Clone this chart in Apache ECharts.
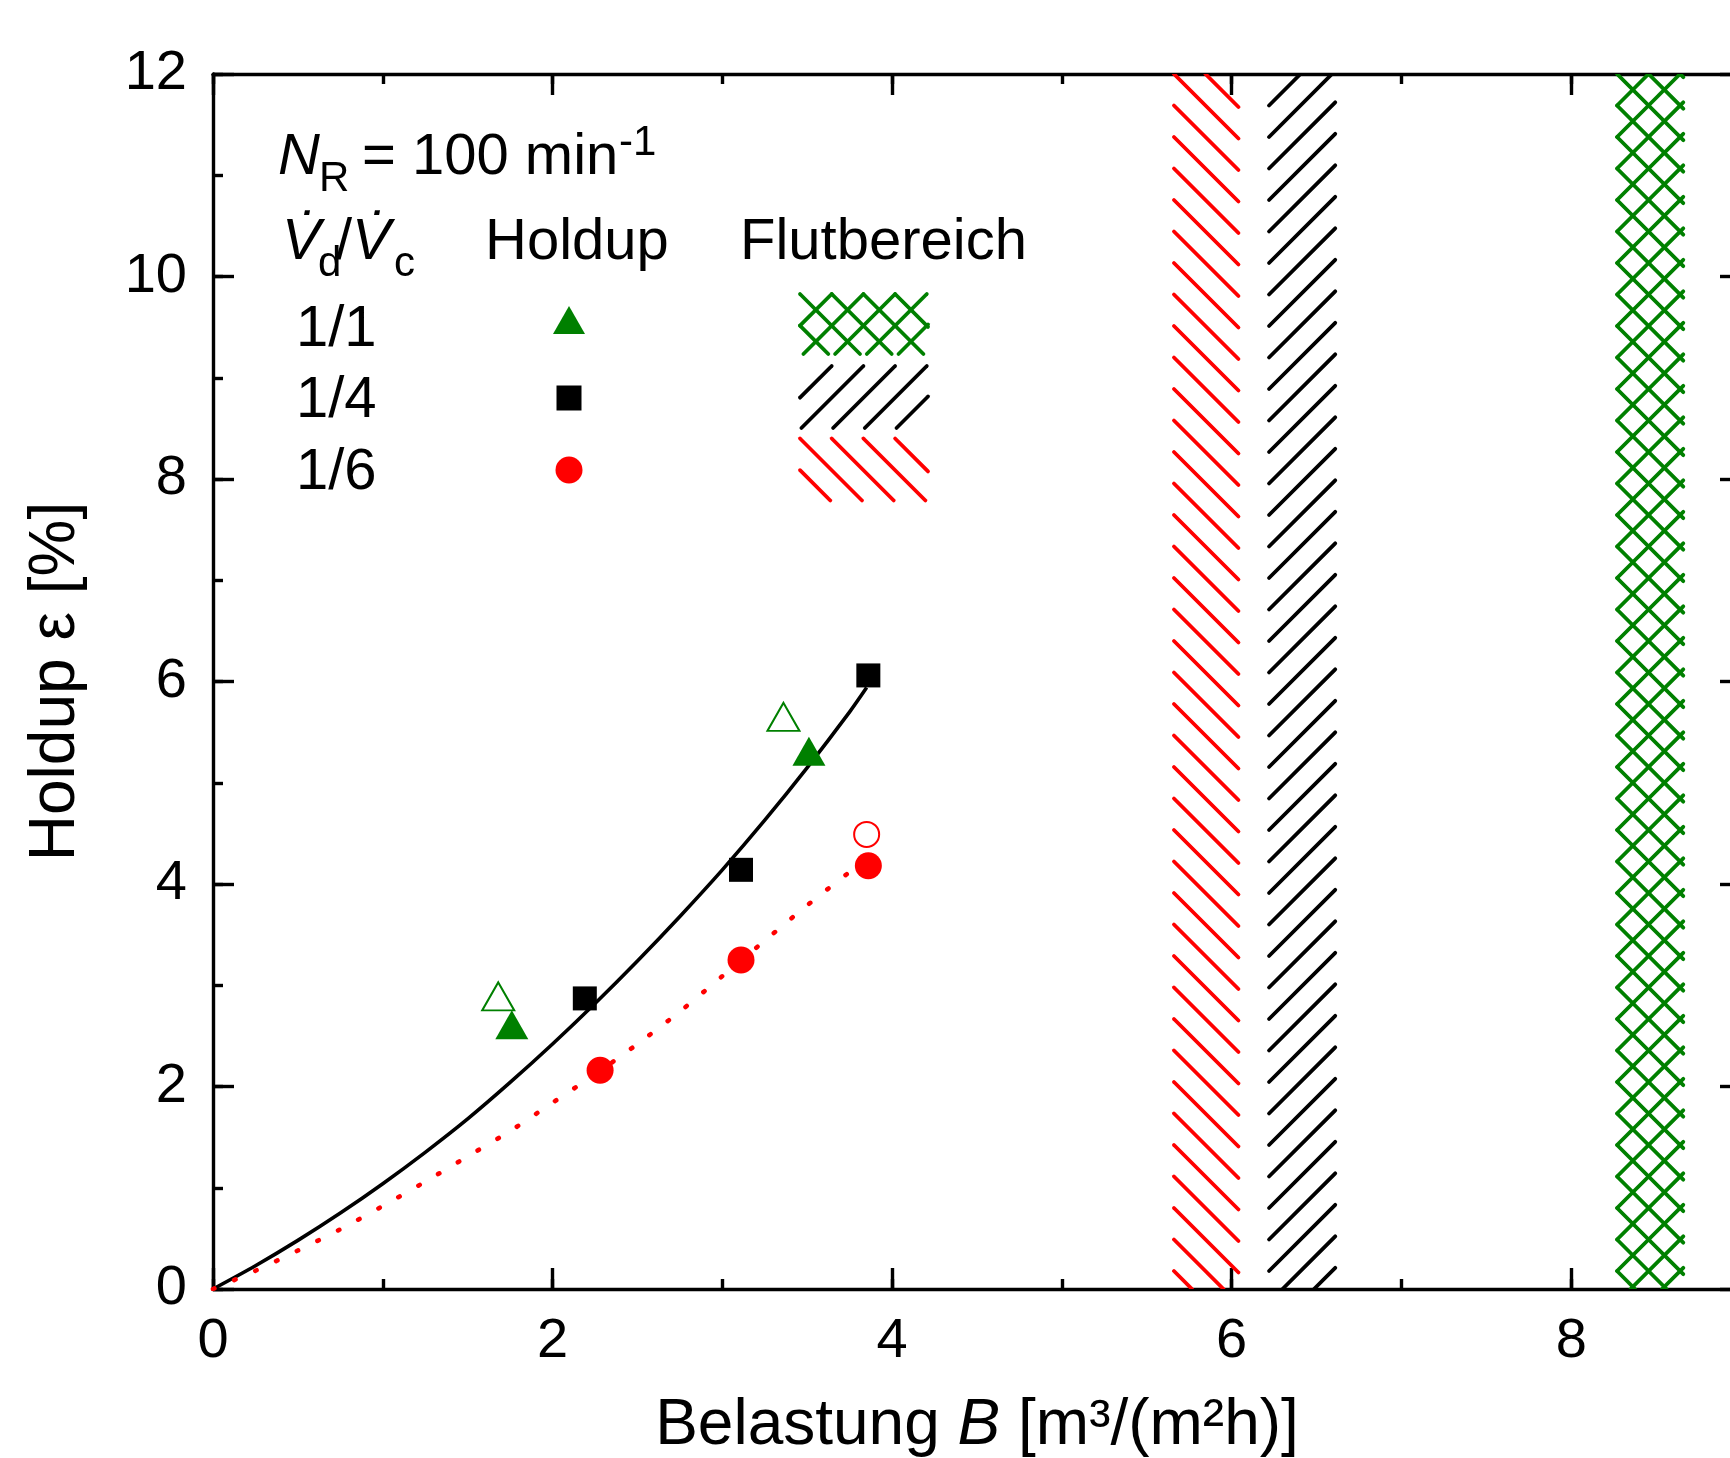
<!DOCTYPE html>
<html>
<head>
<meta charset="utf-8">
<script src="https://cdn.jsdelivr.net/npm/echarts@6/dist/echarts.min.js"></script>
<style>
  html, body { margin: 0; padding: 0; background: #fff; }
  #chart { width: 1730px; height: 1458px; }
</style>
</head>
<body>
<div id="chart"></div>
<script>
// Vd/Vc ratios (legend rows)
const ratios = ['1/1', '1/4', '1/6'];

// holdup measurements, filled symbols
const holdupB_11 = [1.76, 3.51];
const holdupE_11 = [2.61, 5.31];
const holdupB_14 = [2.19, 3.11, 3.86];
const holdupE_14 = [2.87, 4.14, 6.06];
const holdupB_16 = [2.28, 3.11, 3.86];
const holdupE_16 = [2.16, 3.25, 4.18];

// open symbols
const openB_11 = [1.68, 3.36];
const openE_11 = [2.89, 5.65];
const openB_16 = [3.85];
const openE_16 = [4.49];

// fit curves
const fitB = [0, 0.25, 0.5, 0.75, 1, 1.25, 1.5, 1.75, 2, 2.25, 2.5, 2.75, 3, 3.25, 3.5, 3.75, 3.85];
const fitE_14 = [0, 0.23, 0.48, 0.75, 1.04, 1.35, 1.68, 2.04, 2.42, 2.82, 3.24, 3.68, 4.14, 4.63, 5.15, 5.70, 5.94];
const fitE_16 = [0, 0.18, 0.38, 0.59, 0.82, 1.06, 1.31, 1.56, 1.84, 2.12, 2.42, 2.74, 3.09, 3.44, 3.79, 4.12, 4.26];

// flooding range (Flutbereich) per ratio, same order as ratios
const floodFrom = [8.27, 6.22, 5.66];
const floodTo = [8.66, 6.61, 6.04];

/*---------------------------------------------------------------------*/
const FONT = '"Liberation Sans", Arial, sans-serif';
const GREEN = '#008000';
const RED = '#ff0000';
const BLACK = '#000000';
const ratioColors = [GREEN, BLACK, RED];
const hatchKind = ['cross', 'fwd', 'back']; // green crossed, black "/", red "\"
const HATCH_W = 3.8;

const pairs = (xs, ys) => xs.map((x, i) => [x, ys[i]]);

// line segments of a hatch inside a rect, lines pass through (x0 + k*d, y0)
const hatchLines = (x0, y0, w, h, kind, d) => {
  const segs = [];
  const dirs = kind === 'cross' ? [1, -1] : [kind === 'back' ? 1 : -1];
  dirs.forEach((s) => {
    const kMin = s > 0 ? -Math.ceil(h / d) - 1 : 0;
    const kMax = s > 0 ? Math.ceil(w / d) + 1 : Math.ceil((w + h) / d) + 1;
    for (let k = kMin; k <= kMax; k++) {
      const xa = x0 + k * d;
      let t0, t1;
      if (s > 0) {
        t0 = Math.max(0, x0 - xa);
        t1 = Math.min(h, x0 + w - xa);
      } else {
        t0 = Math.max(0, xa - x0 - w);
        t1 = Math.min(h, xa - x0);
      }
      if (t1 > t0 + 3) segs.push([xa + s * t0, y0 + t0, xa + s * t1, y0 + t1]);
    }
  });
  return segs;
};

const segsToLines = (segs, color, width) =>
  segs.map((s) => ({
    type: 'line',
    shape: { x1: s[0], y1: s[1], x2: s[2], y2: s[3] },
    style: { stroke: color, lineWidth: width, lineCap: 'round' },
    silent: true,
  }));

const txt = (text, x, y, size, opts = {}) => ({
  type: 'text',
  x, y,
  silent: true,
  style: {
    text,
    fill: '#000',
    fontSize: size,
    fontFamily: FONT,
    fontStyle: opts.italic ? 'italic' : 'normal',
    textAlign: opts.align || 'left',
    align: opts.align || 'left',
    textVerticalAlign: 'middle',
    verticalAlign: 'middle',
  },
});

// legend block (pixel layout)
const legendRowsY = [330, 401, 473];
const swatchBox = [[800, 294, 128, 60], [800, 366, 128, 62], [800, 438.5, 128, 62]];
const legendEls = [
  txt('N', 278, 158, 58, { italic: true }),
  txt('R', 319, 179, 42),
  txt('= 100 min', 362, 158, 58),
  txt('-1', 619, 143, 42),
  txt('V\u0307', 282, 243, 58, { italic: true }),
  txt('d', 318, 264, 42),
  txt('/', 336, 243, 58),
  txt('V\u0307', 352, 243, 58, { italic: true }),
  txt('c', 394, 264, 42),
  txt('Holdup', 485, 243, 58),
  txt('Flutbereich', 740, 243, 58),
];
ratios.forEach((r, i) => {
  legendEls.push(txt(r, 296, legendRowsY[i], 58));
  const b = swatchBox[i];
  legendEls.push(...segsToLines(hatchLines(b[0], b[1], b[2], b[3], hatchKind[i], 31.7), ratioColors[i], HATCH_W));
});
legendEls.push({
  type: 'polygon', silent: true,
  shape: { points: [[569, 306], [585, 334], [553, 334]] },
  style: { fill: GREEN },
});
legendEls.push({
  type: 'rect', silent: true,
  shape: { x: 556.5, y: 385.5, width: 25, height: 25 },
  style: { fill: BLACK },
});
legendEls.push({
  type: 'circle', silent: true,
  shape: { cx: 569, cy: 470, r: 13.5 },
  style: { fill: RED },
});

const GRID = { left: 213, top: 74, width: 1528, height: 1215, containLabel: false, outerBoundsMode: 'none' };
const AXW = 3.4;

const majorX = (position, withLabel) => ({
  type: 'value', gridIndex: 0, position, min: 0, max: 9, interval: 2,
  axisLine: { show: true, onZero: false, lineStyle: { color: BLACK, width: AXW } },
  axisTick: { show: true, inside: true, length: 21, lineStyle: { color: BLACK, width: AXW } },
  axisLabel: { show: withLabel, fontSize: 56, color: BLACK, fontFamily: FONT, margin: 25, showMaxLabel: false },
  splitLine: { show: false },
});
const majorY = (position, withLabel) => ({
  type: 'value', gridIndex: 0, position, min: 0, max: 12, interval: 2,
  axisLine: { show: true, onZero: false, lineStyle: { color: BLACK, width: AXW } },
  axisTick: { show: true, inside: true, length: 21, lineStyle: { color: BLACK, width: AXW } },
  axisLabel: { show: withLabel, fontSize: 56, color: BLACK, fontFamily: FONT, margin: 26 },
  splitLine: { show: false },
});
const minorAxis = (position, max) => ({
  type: 'value', gridIndex: 1, position, min: 0, max, interval: 1,
  axisLine: { show: false, onZero: false },
  axisTick: { show: true, inside: true, length: 10, lineStyle: { color: BLACK, width: AXW } },
  axisLabel: { show: false },
  splitLine: { show: false },
});

const xBottom = majorX('bottom', true);
xBottom.name = 'Belastung {i|B} [m³/(m²h)]';
xBottom.nameLocation = 'middle';
xBottom.nameGap = 105;
xBottom.nameTextStyle = {
  fontSize: 64, color: BLACK, fontFamily: FONT,
  rich: { i: { fontSize: 64, fontStyle: 'italic', color: BLACK, fontFamily: FONT } },
};
const yLeft = majorY('left', true);
yLeft.name = 'Holdup ε [%]';
yLeft.nameLocation = 'middle';
yLeft.nameGap = 125;
yLeft.nameTextStyle = { fontSize: 64, color: BLACK, fontFamily: FONT };

const options = {
  backgroundColor: '#fff',
  animation: false,
  grid: [{ ...GRID }, { ...GRID }],
  xAxis: [xBottom, majorX('top', false), minorAxis('bottom', 9), minorAxis('top', 9)],
  yAxis: [yLeft, majorY('right', false), minorAxis('left', 12), minorAxis('right', 12)],
  graphic: { elements: legendEls },
  series: [
    {
      name: 'Flutbereich',
      type: 'custom',
      xAxisIndex: 0, yAxisIndex: 0,
      clip: true,
      silent: true,
      z: 1,
      data: floodFrom.map((f, i) => [f, floodTo[i], i]),
      renderItem: (params, api) => {
        const cs = params.coordSys;
        const a = api.coord([api.value(0), 0]);
        const b = api.coord([api.value(1), 0]);
        const i = api.value(2);
        const segs = hatchLines(a[0], cs.y, b[0] - a[0], cs.height, hatchKind[i], 31.5);
        return { type: 'group', children: segsToLines(segs, ratioColors[i], HATCH_W) };
      },
    },
    {
      name: 'Fit 1/4', type: 'line', xAxisIndex: 0, yAxisIndex: 0,
      data: pairs(fitB, fitE_14), smooth: 0.3, symbol: 'none', z: 2,
      lineStyle: { color: BLACK, width: 3.6 },
    },
    {
      name: 'Fit 1/6', type: 'line', xAxisIndex: 0, yAxisIndex: 0,
      data: pairs(fitB, fitE_16), smooth: 0.3, symbol: 'none', z: 2,
      lineStyle: { color: RED, width: 4.6, type: [1.5, 21.5], cap: 'round' },
    },
    {
      name: ratios[0], type: 'scatter', xAxisIndex: 0, yAxisIndex: 0, z: 3,
      data: pairs(holdupB_11, holdupE_11), symbol: 'triangle', symbolSize: [33, 29],
      itemStyle: { color: GREEN, opacity: 1 },
    },
    {
      name: ratios[0] + ' offen', type: 'scatter', xAxisIndex: 0, yAxisIndex: 0, z: 3,
      data: pairs(openB_11, openE_11), symbol: 'emptyTriangle', symbolSize: [32, 28],
      itemStyle: { color: GREEN, borderColor: GREEN, borderWidth: 3, opacity: 1 },
    },
    {
      name: ratios[1], type: 'scatter', xAxisIndex: 0, yAxisIndex: 0, z: 3,
      data: pairs(holdupB_14, holdupE_14), symbol: 'rect', symbolSize: 24,
      itemStyle: { color: BLACK, opacity: 1 },
    },
    {
      name: ratios[2], type: 'scatter', xAxisIndex: 0, yAxisIndex: 0, z: 3,
      data: pairs(holdupB_16, holdupE_16), symbol: 'circle', symbolSize: 27,
      itemStyle: { color: RED, opacity: 1 },
    },
    {
      name: ratios[2] + ' offen', type: 'scatter', xAxisIndex: 0, yAxisIndex: 0, z: 3,
      data: pairs(openB_16, openE_16), symbol: 'emptyCircle', symbolSize: 25,
      itemStyle: { color: RED, borderColor: RED, borderWidth: 3.2, opacity: 1 },
    },
  ],
};

const chart = echarts.init(document.getElementById('chart'), null, { renderer: 'canvas' });
chart.setOption(options);
</script>
</body>
</html>
